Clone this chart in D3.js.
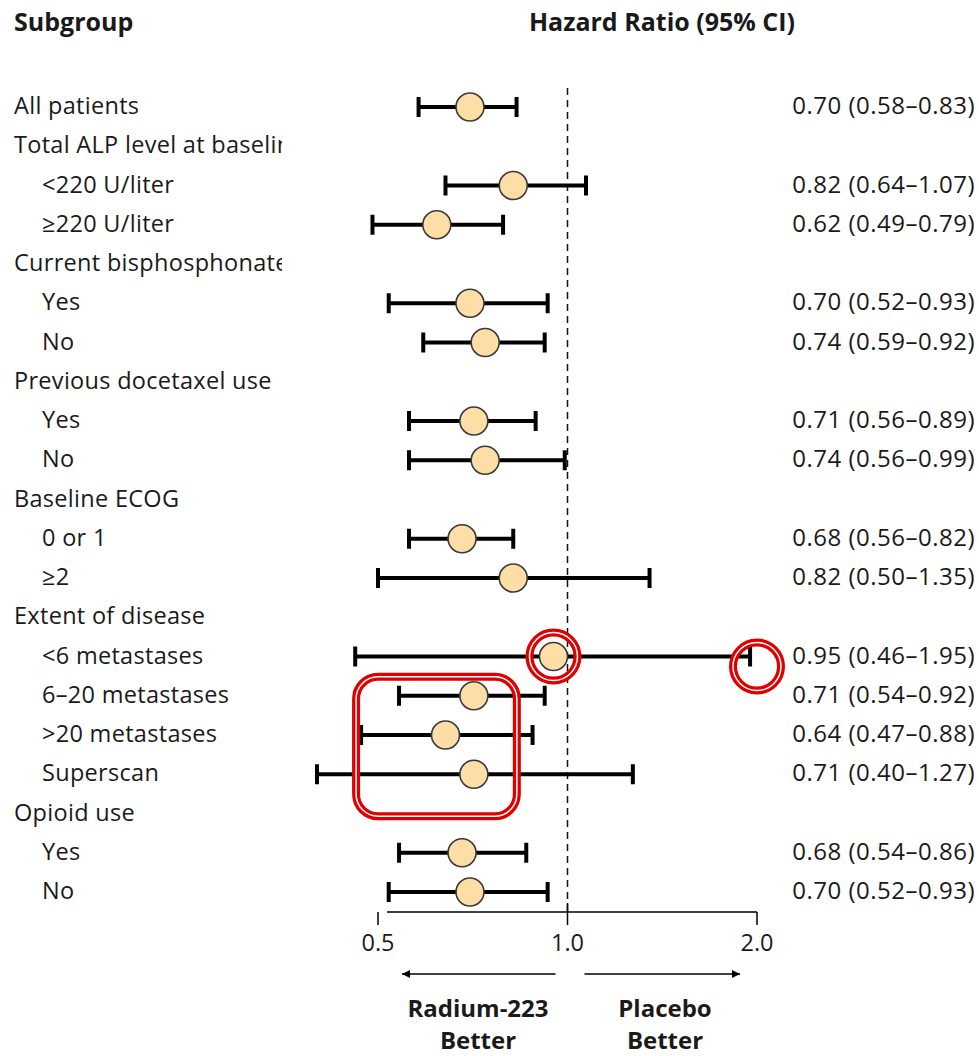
<!DOCTYPE html>
<html>
<head>
<meta charset="utf-8">
<script src="https://cdn.jsdelivr.net/npm/d3@7"></script>
<style>
  html, body { margin: 0; padding: 0; background: #fff; }
  svg { display: block; }
  text { font-family: "Open Sans", Lato, sans-serif; fill: #1a1a1a; }
</style>
</head>
<body>
<svg id="chart" width="979" height="1056"></svg>
<script>
// Subgroup rows (top to bottom); headers have no estimate
const rowLabels = [
  "All patients",
  "Total ALP level at baseline",
  "<220 U/liter",
  "\u2265220 U/liter",
  "Current bisphosphonate use",
  "Yes",
  "No",
  "Previous docetaxel use",
  "Yes",
  "No",
  "Baseline ECOG",
  "0 or 1",
  "\u22652",
  "Extent of disease",
  "<6 metastases",
  "6\u201320 metastases",
  ">20 metastases",
  "Superscan",
  "Opioid use",
  "Yes",
  "No"
];
const rowIndent = [0,0,1,1,0,1,1,0,1,1,0,1,1,0,1,1,1,1,0,1,1];
const hazardRatio = [0.70,null,0.82,0.62,null,0.70,0.74,null,0.71,0.74,null,0.68,0.82,null,0.95,0.71,0.64,0.71,null,0.68,0.70];
const ciLower     = [0.58,null,0.64,0.49,null,0.52,0.59,null,0.56,0.56,null,0.56,0.50,null,0.46,0.54,0.47,0.40,null,0.54,0.52];
const ciUpper     = [0.83,null,1.07,0.79,null,0.93,0.92,null,0.89,0.99,null,0.82,1.35,null,1.95,0.92,0.88,1.27,null,0.86,0.93];
const axisTicks = [0.5, 1.0, 2.0];
const axisTickLabels = ["0.5", "1.0", "2.0"];

const svg = d3.select("#chart");
const rows = rowLabels.map((label, i) => ({
  i, label, indent: rowIndent[i], hr: hazardRatio[i], lo: ciLower[i], hi: ciUpper[i]
}));

const x = d3.scaleLog().domain([0.5, 2.0]).range([378, 757]);
const y = d3.scalePoint().domain(d3.range(rows.length)).range([107, 892]);

const fmt = d3.format(".2f");
const FS = 23.5;   // regular text
const FB = 25;     // bold column headers

// Column headers
svg.append("text").attr("x", 14).attr("y", 31)
  .attr("font-size", FB).attr("font-weight", "bold").text("Subgroup");
svg.append("text").attr("x", 662).attr("y", 31).attr("text-anchor", "middle")
  .attr("font-size", FB).attr("font-weight", "bold").text("Hazard Ratio (95% CI)");

// Subgroup labels, clipped to the label column
svg.append("clipPath").attr("id", "labelClip")
  .append("rect").attr("x", 0).attr("y", 0).attr("width", 282).attr("height", 1056);
svg.append("g").attr("clip-path", "url(#labelClip)")
  .selectAll("text").data(rows).join("text")
  .attr("x", d => d.indent ? 42 : 14)
  .attr("y", d => y(d.i) + 7)
  .attr("font-size", FS)
  .attr("letter-spacing", 0.3)
  .text(d => d.label);

// Reference line at HR = 1
svg.append("line")
  .attr("x1", x(1)).attr("x2", x(1))
  .attr("y1", 88).attr("y2", 912)
  .attr("stroke", "#111").attr("stroke-width", 1.5)
  .attr("stroke-dasharray", "7,5");

const est = rows.filter(d => d.hr != null);

// Confidence intervals
const ci = svg.append("g").selectAll("g").data(est).join("g");
ci.append("line")
  .attr("x1", d => x(d.lo)).attr("x2", d => x(d.hi))
  .attr("y1", d => y(d.i)).attr("y2", d => y(d.i))
  .attr("stroke", "#000").attr("stroke-width", 4);
ci.append("line")
  .attr("x1", d => x(d.lo)).attr("x2", d => x(d.lo))
  .attr("y1", d => y(d.i) - 10).attr("y2", d => y(d.i) + 10)
  .attr("stroke", "#000").attr("stroke-width", 4);
ci.append("line")
  .attr("x1", d => x(d.hi)).attr("x2", d => x(d.hi))
  .attr("y1", d => y(d.i) - 10).attr("y2", d => y(d.i) + 10)
  .attr("stroke", "#000").attr("stroke-width", 4);

// Point estimates
svg.append("g").selectAll("circle").data(est).join("circle")
  .attr("cx", d => x(d.hr)).attr("cy", d => y(d.i)).attr("r", 14)
  .attr("fill", "#FDDEA6").attr("stroke", "#3a3a3a").attr("stroke-width", 1.6);

// Estimate text column
svg.append("g").selectAll("text").data(est).join("text")
  .attr("x", 975).attr("y", d => y(d.i) + 7)
  .attr("text-anchor", "end").attr("font-size", 24)
  .attr("letter-spacing", 0.5)
  .text(d => `${fmt(d.hr)} (${fmt(d.lo)}\u2013${fmt(d.hi)})`);

// X axis
const axisY = 912;
svg.append("line")
  .attr("x1", x(0.5) + 9).attr("x2", x(2.0))
  .attr("y1", axisY).attr("y2", axisY)
  .attr("stroke", "#000").attr("stroke-width", 1.5);
svg.append("g").selectAll("line").data(axisTicks).join("line")
  .attr("x1", d => x(d)).attr("x2", d => x(d))
  .attr("y1", d => d === 1 ? axisY - 9 : axisY).attr("y2", axisY + 13)
  .attr("stroke", "#000").attr("stroke-width", 1.5);
svg.append("g").selectAll("text").data(axisTicks).join("text")
  .attr("x", d => x(d)).attr("y", 951)
  .attr("text-anchor", "middle").attr("font-size", FS)
  .text((d, i) => axisTickLabels[i]);

// Direction arrows
const defs = svg.append("defs");
defs.append("marker").attr("id", "arrowHead")
  .attr("viewBox", "0 0 10 10").attr("refX", 10).attr("refY", 5)
  .attr("markerWidth", 18).attr("markerHeight", 8).attr("markerUnits", "userSpaceOnUse")
  .attr("orient", "auto")
  .append("path").attr("d", "M0,0 L10,5 L0,10 Z").attr("fill", "#000");
const arrowY = 974;
svg.append("line")
  .attr("x1", x(1) - 12).attr("x2", x(0.5) + 24)
  .attr("y1", arrowY).attr("y2", arrowY)
  .attr("stroke", "#000").attr("stroke-width", 1.5)
  .attr("marker-end", "url(#arrowHead)");
svg.append("line")
  .attr("x1", x(1) + 17).attr("x2", x(2.0) - 17)
  .attr("y1", arrowY).attr("y2", arrowY)
  .attr("stroke", "#000").attr("stroke-width", 1.5)
  .attr("marker-end", "url(#arrowHead)");

// Direction captions
const captions = [
  { cx: 478, lines: ["Radium-223", "Better"] },
  { cx: 665, lines: ["Placebo", "Better"] }
];
captions.forEach(c => {
  c.lines.forEach((t, k) => {
    svg.append("text").attr("x", c.cx).attr("y", 1017 + k * 32)
      .attr("text-anchor", "middle").attr("font-size", 24).attr("font-weight", "bold")
      .text(t);
  });
});

// Red highlight rings and box (double outline)
function ring(cx, cy, r) {
  svg.append("circle").attr("cx", cx).attr("cy", cy).attr("r", r)
    .attr("fill", "none").attr("stroke", "#e00000").attr("stroke-width", 8);
  svg.append("circle").attr("cx", cx).attr("cy", cy).attr("r", r)
    .attr("fill", "none").attr("stroke", "#fff").attr("stroke-width", 1.5);
}
const r6 = rows[14];
ring(x(r6.hr), y(r6.i), 24);
ring(x(2.0), y(r6.i) + 10, 24);

const boxTop = y(15) - 19, boxBottom = y(17) + 42;
const boxLeft = x(0.47) - 5, boxRight = x(0.84) - 3;
svg.append("rect")
  .attr("x", boxLeft).attr("y", boxTop)
  .attr("width", boxRight - boxLeft).attr("height", boxBottom - boxTop)
  .attr("rx", 22).attr("fill", "none").attr("stroke", "#e00000").attr("stroke-width", 8);
svg.append("rect")
  .attr("x", boxLeft).attr("y", boxTop)
  .attr("width", boxRight - boxLeft).attr("height", boxBottom - boxTop)
  .attr("rx", 22).attr("fill", "none").attr("stroke", "#fff").attr("stroke-width", 1.5);
</script>
</body>
</html>
